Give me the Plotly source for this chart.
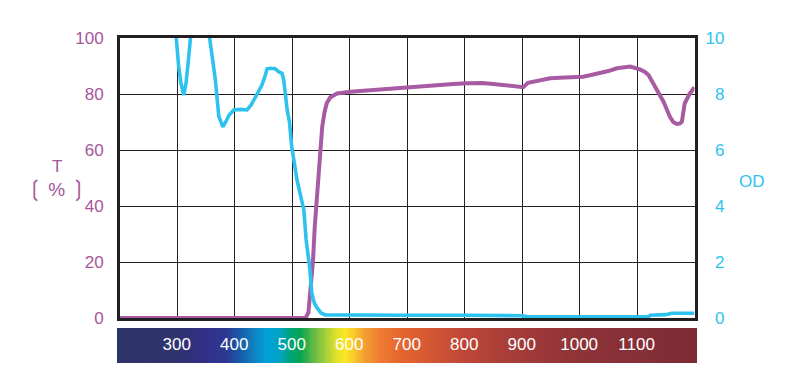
import plotly.graph_objects as go

# ---------------- data ----------------
t_nm = [200, 300, 400, 500, 523, 528, 531, 534, 536, 539, 543, 547, 552, 556, 560, 566, 578,
        601, 636, 680, 717, 745, 780, 804, 830, 850, 865, 879, 895, 902, 910, 930, 949, 975,
        1006, 1020, 1036, 1050, 1065, 1088, 1105, 1113, 1120, 1127, 1134, 1140, 1146, 1152,
        1157, 1163, 1169, 1175, 1178, 1183, 1187, 1192, 1200]
t_pct = [0, 0, 0, 0, 0, 2, 8.9, 15, 20.7, 32.6, 44.6, 56.4, 68.3, 73.5, 76.8, 78.8, 80.2,
         80.8, 81.4, 82.0, 82.6, 83.2, 83.6, 83.8, 83.9, 83.6, 83.2, 82.9, 82.5, 82.4, 84.0, 84.8, 85.6, 85.9,
         86.2, 86.8, 87.4, 88.2, 89.2, 89.8, 88.8, 88.0, 86.8, 84.0, 81.4, 79.5, 77.3, 74.5,
         71.9, 70.0, 69.3, 69.5, 70.1, 76.7, 78.5, 80.2, 82.4]

od_nm = [296, 298, 302, 306, 311, 315, 319, 322, 324, 330, 350, 354, 356, 360, 366, 372, 375,
         379, 384, 390, 398, 410, 421, 428, 436, 447, 452, 456, 462, 470, 476, 482, 485, 488,
         491, 495, 499, 503, 508, 514, 520, 524, 527, 530, 534, 538, 543, 550, 557, 600, 700,
         800, 900, 910, 1000, 1120, 1123, 1150, 1160, 1200]
od_val = [10.3, 10.0, 9.0, 8.4, 7.96, 8.4, 9.2, 9.9, 10.3, 10.8, 10.8, 10.2, 10.0, 9.4, 8.5, 7.2, 7.0,
          6.83, 7.0, 7.25, 7.43, 7.45, 7.43, 7.6, 7.9, 8.32, 8.6, 8.9, 8.92, 8.9, 8.8, 8.74, 8.5, 7.9,
          7.43, 7.0, 6.1, 5.6, 4.93, 4.4, 3.86, 2.79, 2.3, 1.83, 0.89, 0.55, 0.36, 0.18, 0.11, 0.1, 0.1,
          0.1, 0.08, 0.04, 0.04, 0.04, 0.1, 0.12, 0.17, 0.17]

t_ticks = [0, 20, 40, 60, 80, 100]
od_ticks = [0, 2, 4, 6, 8, 10]
od_ticktext = ["\u20070", "\u20072", "\u20074", "\u20076", "\u20078", "10"]
band_labels = [300, 400, 500, 600, 700, 800, 900, 1000, 1100]
band_nm = list(range(196, 1206, 2))

# ---------------- styles ----------------
PURPLE = "#A75BA3"
PURPLE_TXT = "#A5559B"
CYAN = "#2EC3EE"
DARK = "#231F20"
FONT = "Liberation Sans, Arial, Noto Sans CJK JP, sans-serif"

spectrum = [
    [(200 - 200) / 1000, "#2E3466"], [(300 - 200) / 1000, "#2F3370"],
    [(350 - 200) / 1000, "#322F8A"], [(385 - 200) / 1000, "#2C3890"],
    [(410 - 200) / 1000, "#165DAA"], [(435 - 200) / 1000, "#0F84C4"],
    [(455 - 200) / 1000, "#02A0D9"], [(480 - 200) / 1000, "#00A4C0"],
    [(497 - 200) / 1000, "#00A37A"], [(515 - 200) / 1000, "#06A550"],
    [(535 - 200) / 1000, "#5BB847"], [(557 - 200) / 1000, "#A4CE3A"],
    [(578 - 200) / 1000, "#E3E22A"], [(592 - 200) / 1000, "#F9E823"],
    [(610 - 200) / 1000, "#F9C22C"], [(627 - 200) / 1000, "#F39D33"],
    [(653 - 200) / 1000, "#EE7B32"], [(690 - 200) / 1000, "#E6652F"],
    [(800 - 200) / 1000, "#BE4637"], [(900 - 200) / 1000, "#A23B39"],
    [(1000 - 200) / 1000, "#8E3338"], [1.0, "#7E2B35"],
]

fig = go.Figure()

fig.add_trace(go.Heatmap(
    x=band_nm, y=[0], z=[band_nm], colorscale=spectrum, zmin=200, zmax=1200,
    showscale=False, hoverinfo="skip", xaxis="x2", yaxis="y3", zsmooth="best"))

fig.add_trace(go.Scatter(
    x=band_labels, y=[0] * len(band_labels), text=[str(v) for v in band_labels],
    mode="text", textfont=dict(color="white", size=17, family=FONT),
    xaxis="x2", yaxis="y3", hoverinfo="skip", showlegend=False))

fig.add_trace(go.Scatter(
    x=t_nm, y=t_pct, mode="lines", line=dict(color=PURPLE, width=4),
    xaxis="x", yaxis="y", showlegend=False))

fig.add_trace(go.Scatter(
    x=od_nm, y=od_val, mode="lines", line=dict(color=CYAN, width=3.6),
    xaxis="x", yaxis="y2", showlegend=False))

# page body has an 8px margin; figure kept small enough not to overflow the window.
# target: plot area spans 117..697 px horizontally, 38..363 px vertically in the window
OFF = 8
W, H = 795, 366
L, R, T, B = 109, 106, 30, 11
PW = W - L - R  # 580
PH = H - T - B  # 325
main_dom_x = [3 / PW, 577.5 / PW]
main_dom_y = [(363 - 318) / PH, 1.0]
band_dom_y = [0, (363 - 328) / PH]


def px_x(x):
    return (x - OFF - L) / PW


def px_y(y):
    return (H - B + OFF - y) / PH


bracket = "<span style='font-family:DejaVu Sans;font-size:22px'>%s</span>"
pct_title = (bracket % "\u2772") + "\u2009%\u2009" + (bracket % "\u2773")

fig.update_layout(
    width=W, height=H, autosize=False,
    margin=dict(l=L, r=R, t=T, b=B, pad=0, autoexpand=False),
    paper_bgcolor="white", plot_bgcolor="white",
    showlegend=False,
    font=dict(family=FONT, size=17),
    xaxis=dict(domain=main_dom_x, range=[200, 1200], tickvals=list(range(200, 1300, 100)),
               showticklabels=False, showgrid=True, gridcolor=DARK, gridwidth=1.2,
               showline=True, linecolor=DARK, linewidth=3, mirror=True, zeroline=False,
               anchor="y", ticks="", automargin=False),
    yaxis=dict(domain=main_dom_y, range=[0, 100], tickvals=t_ticks,
               tickfont=dict(color=PURPLE_TXT, size=17, family=FONT),
               showgrid=True, gridcolor=DARK, gridwidth=1.2,
               showline=True, linecolor=DARK, linewidth=3, mirror=True, zeroline=False,
               ticks="", ticklabelstandoff=10, anchor="x", automargin=False),
    yaxis2=dict(range=[0, 10], tickvals=od_ticks, ticktext=od_ticktext, overlaying="y",
                side="right", anchor="x", showgrid=False, zeroline=False,
                tickfont=dict(color=CYAN, size=17, family=FONT), ticks="",
                ticklabelstandoff=10, automargin=False),
    xaxis2=dict(domain=[0, 1], range=[196, 1205], anchor="y3", visible=False, automargin=False),
    yaxis3=dict(domain=band_dom_y, range=[-0.5, 0.5], anchor="x2", visible=False, automargin=False),
    annotations=[
        dict(text="T", xref="paper", yref="paper", x=px_x(57), y=px_y(166),
             showarrow=False, font=dict(color=PURPLE_TXT, size=17, family=FONT),
             xanchor="center", yanchor="middle"),
        dict(text=pct_title,
             xref="paper", yref="paper", x=px_x(56), y=px_y(189), showarrow=False,
             font=dict(color=PURPLE_TXT, size=19, family=FONT),
             xanchor="center", yanchor="middle"),
        dict(text="OD", xref="paper", yref="paper", x=px_x(751.5), y=px_y(181.7),
             showarrow=False, font=dict(color=CYAN, size=17, family=FONT),
             xanchor="center", yanchor="middle"),
    ],
)

fig.write_html("out.html")
